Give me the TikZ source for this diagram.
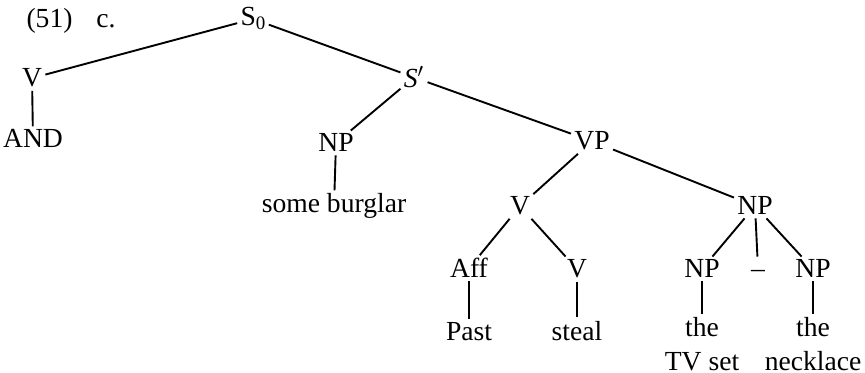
\documentclass[tikz,border=0pt]{standalone}
\usepackage{fontspec}
\setmainfont{Liberation Serif}
\usepackage{tikz}

\tikzset{
	cat/.style={anchor=base, inner sep=1.5pt, font=\fontsize{13.8}{16.6}\selectfont},
	leaf/.style={cat, align=center},
	branch/.style={line width=.95pt}
}
% lowered index on a category label
\newcommand{\idx}[1]{\raisebox{-2pt}{\fontsize{9.5}{10}\selectfont #1}}

\begin{document}
\begin{tikzpicture}[x=.5pt,y=-.5pt]
		\useasboundingbox (0,0) rectangle (865,373);
		\node[cat] (ex) at (49.5,28){(51)};
		\node[cat] (c) at (106,28){c.};
		%%%%%%%%%%%%%%%%%%%%%%%%%%%%%%%%%
		\node[cat] (S0) at (253,26){S\idx{0}};
		\node[cat] (V1) at (32,87){V};
		\node[cat] (Sb) at (414,88){\textit{S}$'$};
		\node[leaf] (AND) at (33,148){AND};
		\node[cat] (NP1) at (336,152){NP};
		\node[leaf] (burglar) at (334,213){some burglar};
		\node[cat] (VP) at (592,150){VP};
		%%%%%%%%%%%%%%%%%%%%%%%%%%%%%%%%%
		\node[cat] (V2) at (520,215){V};
		\node[cat] (NP2) at (755,215){NP};
		\node[cat] (Aff) at (469,278){Aff};
		\node[cat] (V3) at (577,278){V};
		\node[cat] (NP3) at (702,278){NP};
		\node[cat] (dash) at (758,278){\vphantom{N}--};
		\node[cat] (NP4) at (813,278){NP};
		\node[leaf] (Past) at (469,340){Past};
		\node[leaf] (steal) at (577,340){steal};
		% base sits on the last line here
		\node[leaf] (tv) at (702,370){the\\TV set};
		\node[leaf] (neck) at (813,370){the\\necklace};
		%%%%%%%%%%%%%%%%%%%%%%%%%%%%%%%%%
		\draw[branch] (S0) -- (V1);
		\draw[branch] (S0) -- (Sb);
		\draw[branch] (V1) -- (AND);
		\draw[branch] (Sb) -- (NP1);
		\draw[branch] (Sb) -- (VP);
		\draw[branch] (NP1) -- (burglar);
		\draw[branch] (VP) -- (V2);
		\draw[branch] (VP) -- (NP2);
		\draw[branch] (V2) -- (Aff);
		\draw[branch] (V2) -- (V3);
		\draw[branch] (NP2) -- (NP3);
		\draw[branch] (NP2) -- (dash);
		\draw[branch] (NP2) -- (NP4);
		\draw[branch] (Aff) -- (Past);
		\draw[branch] (V3) -- (steal);
		\draw[branch] (NP3) -- (tv);
		\draw[branch] (NP4) -- (neck);
	\end{tikzpicture}
\end{document}
